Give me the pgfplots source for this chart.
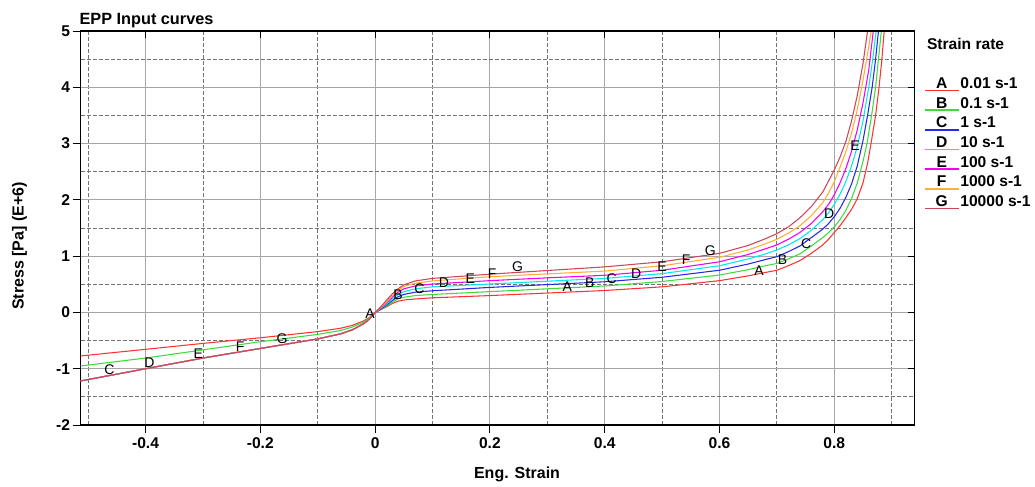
\documentclass[border=0pt]{standalone}
\usepackage{pgfplots}
\pgfplotsset{compat=1.18}
\usepackage{pgfplotstable}
\usepackage{fontspec}
\setmainfont{Liberation Sans}

\definecolor{colA}{RGB}{255,50,50}
\definecolor{colB}{RGB}{60,220,60}
\definecolor{colC}{RGB}{40,40,230}
\definecolor{colD}{RGB}{0,235,235}
\definecolor{colE}{RGB}{245,0,245}
\definecolor{colF}{RGB}{255,175,50}
\definecolor{colG}{RGB}{205,70,90}

% Engineering strain vs. stress (MPa) for each strain rate
\pgfplotstableread{
x y
-0.52 -0.78
-0.40 -0.655
-0.30 -0.55
-0.20 -0.45
-0.10 -0.34
-0.06 -0.28
-0.04 -0.23
-0.02 -0.15
-0.01 -0.09
0 0
0.01 0.05
0.02 0.10
0.03 0.16
0.04 0.20
0.05 0.22
0.07 0.24
0.10 0.26
0.20 0.30
0.30 0.345
0.40 0.39
0.50 0.455
0.60 0.565
0.65 0.65
0.68 0.71
0.70 0.75
0.72 0.83
0.74 0.92
0.76 1.05
0.78 1.20
0.79 1.30
0.80 1.42
0.81 1.54
0.82 1.68
0.83 1.83
0.84 2.02
0.85 2.30
0.858 2.65
0.864 3.00
0.872 3.50
0.878 4.00
0.883 4.50
0.887 5.00
0.892 5.60
}\rateA

\pgfplotstableread{
x y
-0.52 -0.96
-0.40 -0.81
-0.30 -0.665
-0.20 -0.52
-0.10 -0.39
-0.06 -0.32
-0.04 -0.26
-0.02 -0.17
-0.01 -0.10
0 0
0.01 0.055
0.02 0.11
0.03 0.18
0.04 0.24
0.05 0.27
0.07 0.30
0.10 0.32
0.20 0.37
0.30 0.42
0.40 0.47
0.50 0.55
0.60 0.665
0.65 0.76
0.68 0.83
0.70 0.87
0.72 0.95
0.74 1.04
0.76 1.18
0.78 1.33
0.79 1.42
0.80 1.52
0.81 1.65
0.82 1.81
0.83 2.02
0.84 2.30
0.85 2.68
0.857 3.00
0.865 3.50
0.872 4.00
0.877 4.50
0.882 5.00
0.887 5.60
}\rateB

\pgfplotstableread{
x y
-0.52 -1.23
-0.40 -1.00
-0.30 -0.81
-0.20 -0.64
-0.10 -0.47
-0.06 -0.38
-0.04 -0.31
-0.02 -0.20
-0.01 -0.12
0 0
0.01 0.06
0.02 0.13
0.03 0.21
0.04 0.28
0.05 0.32
0.07 0.36
0.10 0.385
0.20 0.445
0.30 0.495
0.40 0.545
0.50 0.625
0.60 0.75
0.65 0.86
0.68 0.94
0.70 0.99
0.72 1.08
0.74 1.18
0.76 1.33
0.78 1.48
0.79 1.58
0.80 1.70
0.81 1.85
0.82 2.04
0.83 2.28
0.84 2.60
0.85 3.05
0.858 3.50
0.866 4.00
0.872 4.50
0.877 5.00
0.882 5.60
}\rateC

\pgfplotstableread{
x y
-0.52 -1.23
-0.40 -1.00
-0.30 -0.81
-0.20 -0.64
-0.10 -0.47
-0.06 -0.38
-0.04 -0.31
-0.02 -0.20
-0.01 -0.12
0 0
0.01 0.07
0.02 0.15
0.03 0.24
0.04 0.32
0.05 0.37
0.07 0.42
0.10 0.455
0.20 0.505
0.30 0.555
0.40 0.605
0.50 0.69
0.60 0.83
0.65 0.95
0.68 1.04
0.70 1.11
0.72 1.20
0.74 1.31
0.76 1.46
0.78 1.65
0.79 1.77
0.80 1.92
0.81 2.10
0.82 2.32
0.83 2.60
0.84 2.94
0.85 3.40
0.86 4.00
0.867 4.50
0.873 5.00
0.878 5.60
}\rateD

\pgfplotstableread{
x y
-0.52 -1.23
-0.40 -1.00
-0.30 -0.81
-0.20 -0.64
-0.10 -0.47
-0.06 -0.38
-0.04 -0.31
-0.02 -0.20
-0.01 -0.12
0 0
0.01 0.08
0.02 0.17
0.03 0.27
0.04 0.36
0.05 0.42
0.07 0.47
0.10 0.505
0.20 0.565
0.30 0.615
0.40 0.66
0.50 0.75
0.60 0.90
0.65 1.03
0.68 1.13
0.70 1.20
0.72 1.30
0.74 1.42
0.76 1.58
0.78 1.79
0.79 1.92
0.80 2.09
0.81 2.30
0.82 2.55
0.83 2.86
0.84 3.24
0.85 3.72
0.86 4.30
0.868 5.00
0.873 5.60
}\rateE

\pgfplotstableread{
x y
-0.52 -1.23
-0.40 -1.00
-0.30 -0.81
-0.20 -0.64
-0.10 -0.47
-0.06 -0.38
-0.04 -0.31
-0.02 -0.20
-0.01 -0.12
0 0
0.01 0.09
0.02 0.19
0.03 0.30
0.04 0.39
0.05 0.46
0.07 0.52
0.10 0.56
0.20 0.635
0.30 0.685
0.40 0.735
0.50 0.83
0.60 0.98
0.65 1.11
0.68 1.22
0.70 1.30
0.72 1.41
0.74 1.54
0.76 1.72
0.78 1.95
0.79 2.12
0.80 2.32
0.81 2.58
0.82 2.85
0.83 3.18
0.84 3.60
0.85 4.12
0.86 4.72
0.865 5.05
0.87 5.60
}\rateF

\pgfplotstableread{
x y
-0.52 -1.23
-0.40 -1.00
-0.30 -0.81
-0.20 -0.64
-0.10 -0.47
-0.06 -0.38
-0.04 -0.31
-0.02 -0.20
-0.01 -0.12
0 0
0.01 0.10
0.02 0.22
0.03 0.33
0.04 0.42
0.05 0.49
0.07 0.56
0.10 0.605
0.20 0.68
0.30 0.745
0.40 0.81
0.50 0.90
0.60 1.05
0.65 1.19
0.68 1.31
0.70 1.40
0.72 1.52
0.74 1.68
0.76 1.88
0.78 2.14
0.80 2.53
0.81 2.76
0.82 3.03
0.83 3.40
0.84 3.85
0.85 4.42
0.858 5.00
0.865 5.60
}\rateG

\newcommand{\tickfont}{\fontsize{11.7}{14}\selectfont\bfseries}
\newcommand{\curvefont}{\fontsize{10.5}{12}\selectfont}

\begin{document}
\begin{tikzpicture}
\begin{axis}[
  at={(0,0)}, anchor=south west,
  scale only axis, width=625.2pt, height=295.5pt,
  xmin=-0.513, xmax=0.9395, ymin=-2, ymax=5,
  xtick={-0.4,-0.2,0,0.2,0.4,0.6,0.8},
  ytick={-2,-1,0,1,2,3,4,5},
  minor xtick={-0.5,-0.3,-0.1,0.1,0.3,0.5,0.7,0.9},
  minor ytick={-1.5,-0.5,0.5,1.5,2.5,3.5,4.5},
  xtick pos=left, ytick pos=left,
  tick align=outside, major tick length=6pt, minor tick length=0pt,
  major tick style={black, line width=0.75pt},
  grid=both,
  major grid style={gray!70, line width=0.85pt},
  minor grid style={black!55, line width=0.6pt, dash pattern=on 3pt off 1.5pt},
  axis line style={black, line width=0.9pt},
  /pgf/number format/assume math mode=true,
  ticklabel style={font=\tickfont},
  yticklabel style={xshift=1.5pt},
  xlabel={Eng. Strain},
  ylabel={Stress [Pa] (E+6)},
  xlabel style={font=\fontsize{12}{14}\selectfont\bfseries, at={(axis description cs:0.5234,-0.1244)}, anchor=center},
  ylabel style={font=\fontsize{12}{14}\selectfont\bfseries, at={(axis description cs:-0.0734,0.454)}, anchor=center},
  every axis plot/.append style={line width=0.8pt, no markers},
]
\addplot[colA] table {\rateA};
\addplot[colB] table {\rateB};
\addplot[colC] table {\rateC};
\addplot[colD] table {\rateD};
\addplot[colE] table {\rateE};
\addplot[colF] table {\rateF};
\addplot[colG] table {\rateG};

% curve identifiers
\begin{scope}[every node/.style={font=\curvefont, inner sep=0pt, text=black}]
\node at (axis cs:-0.009,-0.02) {A};
\node at (axis cs:0.040,0.32) {B};
\node at (axis cs:0.077,0.43) {C};
\node at (axis cs:0.120,0.52) {D};
\node at (axis cs:0.166,0.605) {E};
\node at (axis cs:0.204,0.695) {F};
\node at (axis cs:0.248,0.81) {G};
\node at (axis cs:0.335,0.455) {A};
\node at (axis cs:0.374,0.535) {B};
\node at (axis cs:0.412,0.605) {C};
\node at (axis cs:0.455,0.695) {D};
\node at (axis cs:0.500,0.81) {E};
\node at (axis cs:0.542,0.93) {F};
\node at (axis cs:0.584,1.096) {G};
\node at (axis cs:0.669,0.74) {A};
\node at (axis cs:0.710,0.93) {B};
\node at (axis cs:0.751,1.23) {C};
\node at (axis cs:0.791,1.76) {D};
\node at (axis cs:0.836,2.96) {E};
\node at (axis cs:-0.463,-1.02) {C};
\node at (axis cs:-0.393,-0.89) {D};
\node at (axis cs:-0.308,-0.74) {E};
\node at (axis cs:-0.235,-0.60) {F};
\node at (axis cs:-0.162,-0.47) {G};
\end{scope}
\end{axis}

% inward ticks on the top and right edges
\begin{axis}[
  at={(0,0)}, anchor=south west,
  scale only axis, width=625.2pt, height=295.5pt,
  xmin=-0.513, xmax=0.9395, ymin=-2, ymax=5,
  axis x line*=top, axis y line*=right,
  xtick={-0.4,-0.2,0,0.2,0.4,0.6,0.8},
  ytick={-2,-1,0,1,2,3,4,5},
  xticklabels={}, yticklabels={},
  tick align=inside, major tick length=5pt,
  major tick style={black, line width=0.75pt},
  axis line style={black, line width=0.9pt},
]
\end{axis}

% title
\node[anchor=base west, inner sep=0pt, font=\fontsize{12.2}{14}\selectfont\bfseries] at (-1.0pt,300pt) {EPP Input curves};

% legend: sample line under each identifier letter
\node[anchor=base west, inner sep=0pt, font=\tickfont] at (634.5pt,281.6pt) {Strain rate};
\foreach \lett/\val/\col [count=\i from 0] in {A/0.01 s-1/colA, B/0.1 s-1/colB, C/1 s-1/colC, D/10 s-1/colD, E/100 s-1/colE, F/1000 s-1/colF, G/10000 s-1/colG} {
  \pgfmathsetmacro{\yb}{(425-88.3-19.7*\i)*0.75}
  \pgfmathsetmacro{\yl}{\yb-1.6}
  \draw[draw=\col, line width=1.2pt] (633.2pt,\yl pt) -- (658.7pt,\yl pt);
  \node[anchor=base, inner sep=0pt, font=\tickfont] at (645.75pt,\yb pt) {\lett};
  \node[anchor=base west, inner sep=0pt, font=\tickfont] at (659.5pt,\yb pt) {\val};
}

\pgfresetboundingbox
\path[use as bounding box] (-60.5pt,-45.75pt) rectangle (715.7pt,318.75pt);
\end{tikzpicture}
\end{document}
